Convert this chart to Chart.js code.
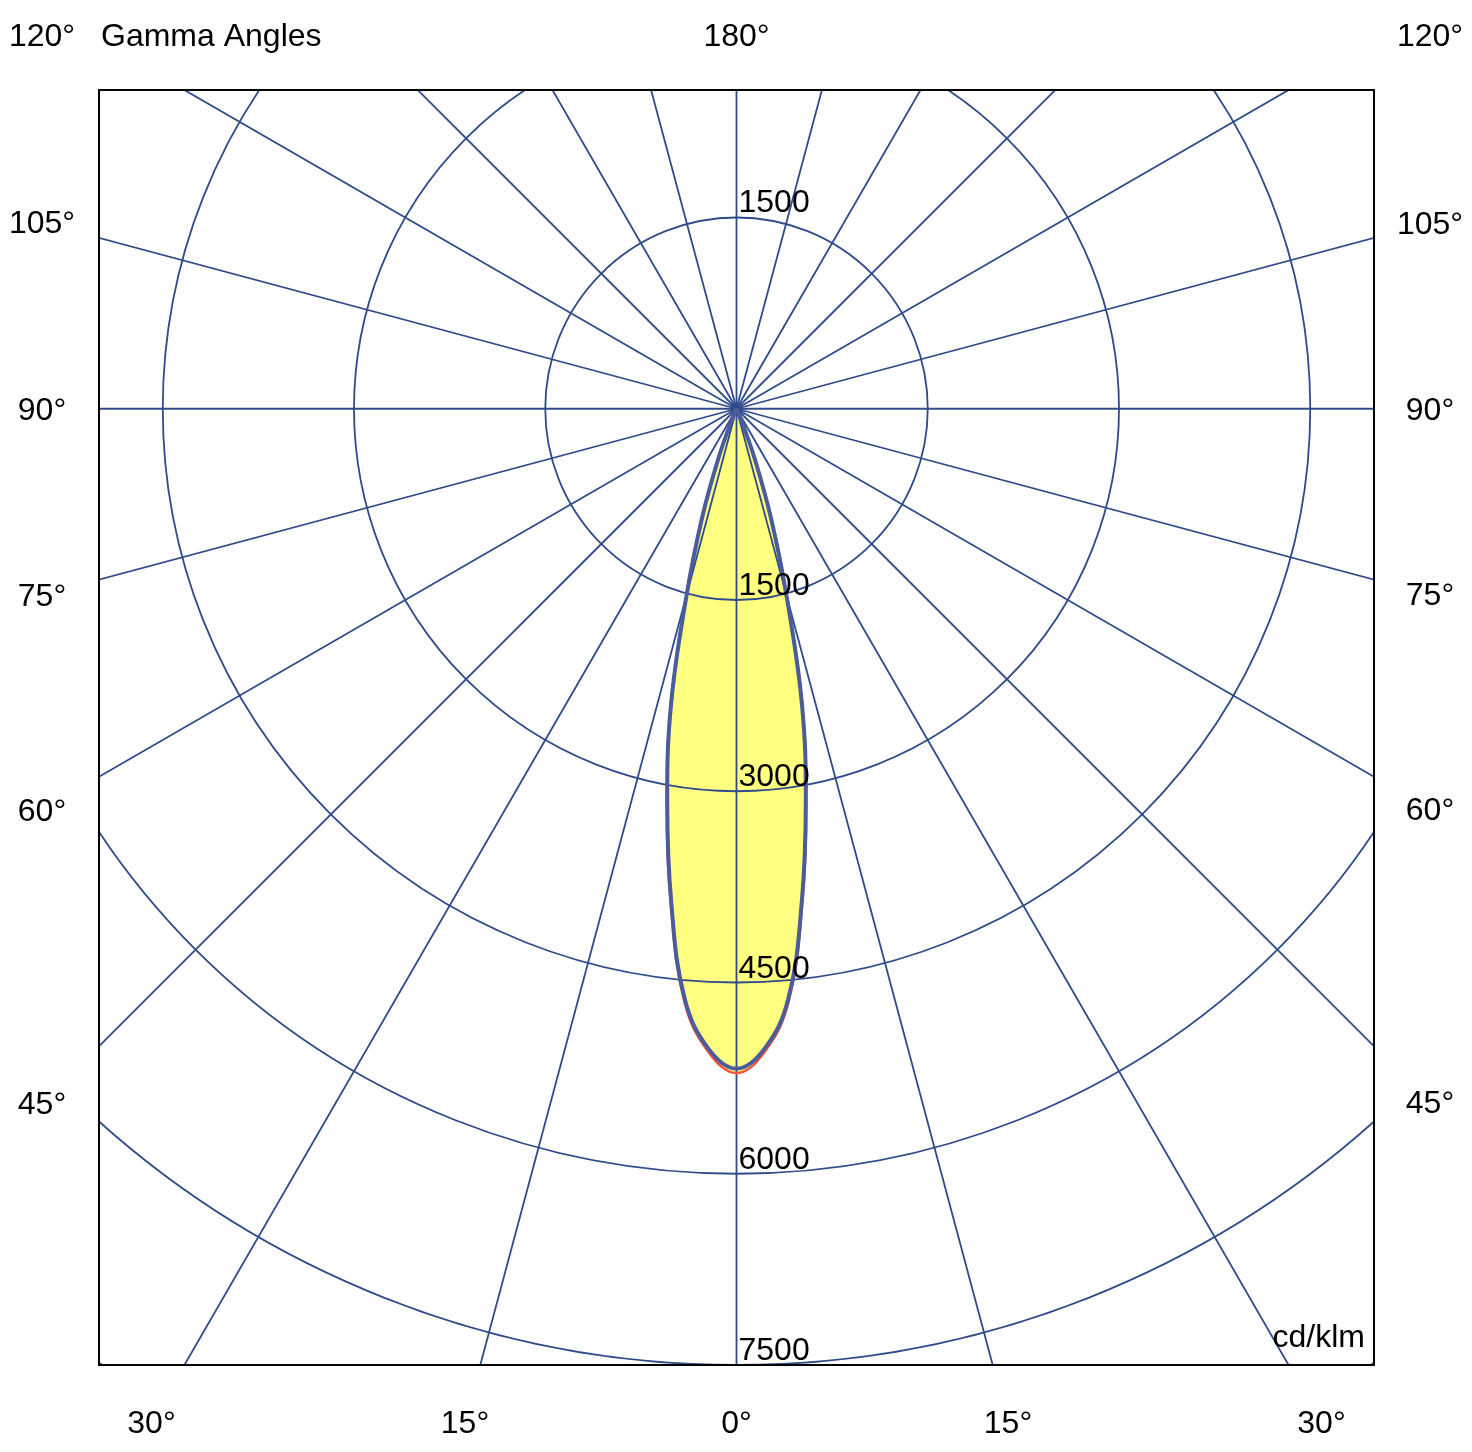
<!DOCTYPE html>
<html>
<head>
<meta charset="utf-8">
<title>Gamma Angles</title>
<script src="https://cdn.jsdelivr.net/npm/chart.js@4.4.1/dist/chart.umd.min.js"></script>
<style>
  html, body { margin: 0; padding: 0; background: #fff; }
  canvas { display: block; }
</style>
</head>
<body>
<canvas id="polar" width="1472" height="1452"></canvas>
<script>
// gamma angles of the measured points, degrees from nadir
const gammaAngles = [0, 2.5, 5, 7.5, 10, 12.5, 15, 17.5, 20, 22.5, 25, 27.5, 30, 35, 40, 50, 60, 70, 80, 90, 100, 120, 140, 160, 180];
// C0 - C180 plane, cd/klm (red)
const planeC0C180 = [5210, 5050, 4675, 3935, 3145, 2385, 1520, 905, 425, 125, 35, 12, 6, 3, 2, 1, 0, 0, 0, 0, 0, 0, 0, 0, 0];
// C90 - C270 plane, cd/klm (blue)
const planeC90C270 = [5175, 5025, 4650, 3915, 3130, 2370, 1510, 900, 420, 120, 30, 10, 5, 2, 1, 0, 0, 0, 0, 0, 0, 0, 0, 0, 0];

// intensity rings and angle labels
const ringValues = [1500, 3000, 4500, 6000, 7500, 9000];
const ringLabels = ['1500', '3000', '4500', '6000', '7500', '9000'];
const angleTicks = [0, 15, 30, 45, 60, 75, 90, 105, 120];
const topTick = 180;

const GRID = '#2f4b8a';
const FONT = '32px "Liberation Sans", Arial, sans-serif';
const rad = d => d * Math.PI / 180;

// left half is C180 / C270, right half C0 / C90 (symmetric)
function toPoints(values) {
    const pts = [];
    for (let i = gammaAngles.length - 1; i >= 0; i--) {
        const g = rad(gammaAngles[i]);
        pts.push({x: -values[i] * Math.sin(g), y: -values[i] * Math.cos(g)});
    }
    for (let i = 1; i < gammaAngles.length; i++) {
        const g = rad(gammaAngles[i]);
        pts.push({x: values[i] * Math.sin(g), y: -values[i] * Math.cos(g)});
    }
    return pts;
}

const polarGrid = {
    id: 'polarGrid',
    beforeDatasetsDraw(chart) {
        const {ctx, chartArea: a, scales: {x, y}} = chart;
        const cx = x.getPixelForValue(0), cy = y.getPixelForValue(0);
        const k = (x.getPixelForValue(1000) - cx) / 1000;
        ctx.save();
        ctx.beginPath();
        ctx.rect(a.left, a.top, a.right - a.left, a.bottom - a.top);
        ctx.clip();
        ctx.strokeStyle = GRID;
        ctx.lineWidth = 1.8;
        ringValues.forEach(v => {
            ctx.beginPath();
            ctx.arc(cx, cy, v * k, 0, Math.PI * 2);
            ctx.stroke();
        });
        for (let g = 0; g < 360; g += 15) {
            ctx.beginPath();
            ctx.moveTo(cx, cy);
            ctx.lineTo(cx + 3000 * Math.sin(rad(g)), cy + 3000 * Math.cos(rad(g)));
            ctx.stroke();
        }
        ctx.restore();
    },
    afterDatasetsDraw(chart) {
        const {ctx, chartArea: a, scales: {x, y}} = chart;
        const cx = x.getPixelForValue(0), cy = y.getPixelForValue(0);
        const k = (x.getPixelForValue(1000) - cx) / 1000;
        ctx.save();
        ctx.fillStyle = '#000';
        ctx.font = FONT;

        // ring values along the vertical axis
        ctx.textAlign = 'left';
        ctx.textBaseline = 'alphabetic';
        ringValues.forEach((v, i) => {
            const r = v * k;
            if (cy + r <= a.bottom + 1) ctx.fillText(ringLabels[i], cx + 2, cy + r - 5);
            if (cy - r >= a.top) ctx.fillText(ringLabels[i], cx + 2, cy - r - 6);
        });
        ctx.textAlign = 'right';
        ctx.fillText('cd/klm', a.right - 9, a.bottom - 18);

        // gamma angle labels round the frame
        ctx.textAlign = 'center';
        ctx.textBaseline = 'middle';
        const off = 57;
        [-1, 1].forEach(s => {
            angleTicks.forEach(g => {
                if (g === 0 && s < 0) return;
                let px, py;
                if (g <= 30) {
                    py = a.bottom + off;
                    px = cx + s * (py - cy) * Math.tan(rad(g));
                } else {
                    px = s > 0 ? a.right + off - 1 : a.left - off;
                    py = cy + Math.abs(px - cx) / Math.tan(rad(g));
                    py = Math.max(py, a.top - 55);
                }
                ctx.fillText(g + '°', px, py + 2);
            });
        });
        ctx.fillText(topTick + '°', cx, a.top - 53);
        ctx.textAlign = 'left';
        ctx.fillText('Gamma Angles', a.left + 2, a.top - 53);

        // frame
        ctx.strokeStyle = '#000';
        ctx.lineWidth = 2;
        ctx.strokeRect(a.left, a.top, a.right - a.left, a.bottom - a.top);
        ctx.restore();
    }
};

const chart = new Chart(document.getElementById('polar'), {
    type: 'line',
    data: {
        datasets: [{
            label: 'C90 - C270',
            data: toPoints(planeC90C270),
            borderColor: '#4a5c9c',
            borderWidth: 4,
            backgroundColor: '#ffff80',
            fill: 'shape',
            tension: 0.4
        }, {
            label: 'C0 - C180',
            data: toPoints(planeC0C180),
            borderColor: '#f2553e',
            borderWidth: 2.5,
            backgroundColor: '#ffff80',
            fill: 'shape',
            tension: 0.4
        }]
    },
    options: {
        responsive: false,
        animation: false,
        devicePixelRatio: 1,
        layout: {padding: {left: 99, top: 90, right: 98, bottom: 87}},
        elements: {point: {radius: 0, hoverRadius: 0}},
        scales: {
            x: {type: 'linear', min: -5000, max: 5000, display: false},
            y: {type: 'linear', min: -7500, max: 2500, display: false}
        },
        plugins: {
            legend: {display: false},
            tooltip: {enabled: false},
            filler: {drawTime: 'beforeDatasetsDraw'}
        }
    },
    plugins: [polarGrid]
});
</script>
</body>
</html>
